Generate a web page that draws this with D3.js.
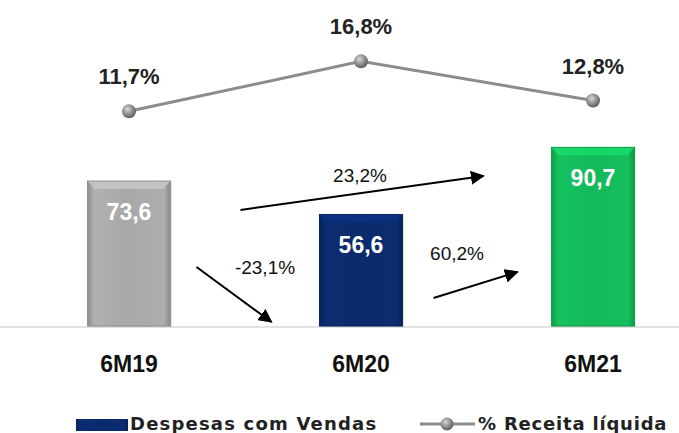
<!DOCTYPE html>
<html><head><meta charset="utf-8">
<script src="https://cdn.jsdelivr.net/npm/d3@7"></script>
<style>body{margin:0;background:#fff}svg{display:block}</style>
</head><body>
<svg id="c" width="679" height="433"></svg>
<script>
const categories = ["6M19", "6M20", "6M21"];
const despesas = [73.6, 56.6, 90.7];
const receitaPct = [11.7, 16.8, 12.8];
const barLabels = ["73,6", "56,6", "90,7"];
const pctLabels = ["11,7%", "16,8%", "12,8%"];
const growthLabels = ["-23,1%", "23,2%", "60,2%"];
const barColors = ["#a8a8a8", "#0b2a6c", "#14b95a"];

const svg = d3.select("#c");
const W = 679, H = 433;
const baseY = 326;
const x = d3.scaleBand().domain(categories).range([13, 709]).paddingInner(0.642).paddingOuter(0.321);
const y = d3.scaleLinear().domain([0, 100]).range([baseY, baseY - 197]);
const y2 = d3.scaleLinear().domain([0, 20]).range([226, 30]);
const cx = c => x(c) + x.bandwidth() / 2;

const defs = svg.append("defs");
barColors.forEach((col, i) => {
  const g = defs.append("linearGradient").attr("id", "bg" + i).attr("x1", 0).attr("x2", 1).attr("y1", 0).attr("y2", 0);
  const c = d3.color(col);
  g.append("stop").attr("offset", 0).attr("stop-color", c.darker(0.5));
  g.append("stop").attr("offset", 0.08).attr("stop-color", c.brighter(0.15));
  g.append("stop").attr("offset", 0.5).attr("stop-color", col);
  g.append("stop").attr("offset", 0.92).attr("stop-color", c.brighter(0.1));
  g.append("stop").attr("offset", 1).attr("stop-color", c.darker(0.6));
});
const rg = defs.append("radialGradient").attr("id", "ball").attr("cx", 0.4).attr("cy", 0.35).attr("r", 0.65);
rg.append("stop").attr("offset", 0).attr("stop-color", "#d8d8d8");
rg.append("stop").attr("offset", 0.6).attr("stop-color", "#8a8a8a");
rg.append("stop").attr("offset", 1).attr("stop-color", "#5e5e5e");
const mk = defs.append("marker").attr("id", "arr").attr("viewBox", "0 0 10 10").attr("refX", 9).attr("refY", 5)
  .attr("markerWidth", 14).attr("markerHeight", 14).attr("markerUnits", "userSpaceOnUse").attr("orient", "auto");
mk.append("path").attr("d", "M0,0L10,5L0,10Z").attr("fill", "#000");

// axis line
svg.append("line").attr("x1", 0).attr("x2", W).attr("y1", baseY + 1).attr("y2", baseY + 1)
  .attr("stroke", "#d9d9d9").attr("stroke-width", 1.5);

// bars
const bars = svg.append("g");
categories.forEach((c, i) => {
  const x0 = x(c), w = x.bandwidth(), y0 = y(despesas[i]), h = baseY - y0;
  const col = d3.color(barColors[i]);
  bars.append("rect").attr("x", x0 + 1).attr("y", y0 + 1).attr("width", w).attr("height", h)
    .attr("fill", "#000").attr("opacity", 0.15);
  bars.append("rect").attr("x", x0).attr("y", y0).attr("width", w).attr("height", h)
    .attr("fill", `url(#bg${i})`);
  bars.append("path").attr("d", `M${x0},${y0}L${x0 + w},${y0}L${x0 + w - 7},${y0 + 8}L${x0 + 7},${y0 + 8}Z`)
    .attr("fill", col.brighter(0.5)).attr("opacity", 0.8);
  bars.append("rect").attr("x", x0).attr("y", y0).attr("width", w).attr("height", h)
    .attr("fill", "none").attr("stroke", col.darker(0.4)).attr("stroke-width", 1);
  bars.append("text").attr("x", cx(c)).attr("y", y0 + 39).attr("text-anchor", "middle")
    .attr("font-family", "Liberation Sans, Arial, sans-serif").attr("font-weight", "bold").attr("font-size", 23)
    .attr("fill", "#fff").text(barLabels[i]);
});

// line
const line = d3.line().x((d, i) => cx(categories[i])).y(d => y2(d));
svg.append("path").datum(receitaPct).attr("d", line).attr("fill", "none")
  .attr("stroke", "#8c8c8c").attr("stroke-width", 3);
svg.append("g").selectAll("circle").data(receitaPct).join("circle")
  .attr("cx", (d, i) => cx(categories[i])).attr("cy", d => y2(d)).attr("r", 7)
  .attr("fill", "url(#ball)");
svg.append("g").selectAll("text").data(receitaPct).join("text")
  .attr("x", (d, i) => cx(categories[i])).attr("y", d => y2(d) - 27).attr("text-anchor", "middle")
  .attr("font-family", "Liberation Sans, Arial, sans-serif").attr("font-weight", "bold").attr("font-size", 22)
  .attr("fill", "#222").text((d, i) => pctLabels[i]);

// category labels
svg.append("g").selectAll("text").data(categories).join("text")
  .attr("x", d => cx(d)).attr("y", 372).attr("text-anchor", "middle")
  .attr("font-family", "Liberation Sans, Arial, sans-serif").attr("font-weight", "bold").attr("font-size", 23)
  .attr("fill", "#111").text(d => d);

// growth arrows
const arrows = [
  {x1: x(categories[0]) + x.bandwidth() + 26, y1: 267, x2: x(categories[1]) - 48, y2: 322, lx: 265, ly: 274},
  {x1: x(categories[0]) + x.bandwidth() + 70, y1: 210, x2: x(categories[2]) - 68, y2: 176, lx: 360, ly: 182},
  {x1: x(categories[1]) + x.bandwidth() + 31, y1: 298, x2: x(categories[2]) - 34, y2: 272, lx: 457, ly: 260}
];
arrows.forEach((a, i) => {
  svg.append("line").attr("x1", a.x1).attr("y1", a.y1).attr("x2", a.x2).attr("y2", a.y2)
    .attr("stroke", "#000").attr("stroke-width", 2).attr("marker-end", "url(#arr)");
  svg.append("text").attr("x", a.lx).attr("y", a.ly).attr("text-anchor", "middle")
    .attr("font-family", "Liberation Sans, Arial, sans-serif").attr("font-size", 19)
    .attr("fill", "#111").text(growthLabels[i]);
});

// legend
const lg = svg.append("g");
lg.append("rect").attr("x", 76).attr("y", 419).attr("width", 52).attr("height", 12).attr("fill", "url(#bg1)");
lg.append("text").attr("x", 130).attr("y", 430).attr("font-family", "DejaVu Sans, Verdana, sans-serif")
  .attr("font-weight", "bold").attr("font-size", 18).attr("letter-spacing", 1.2).attr("fill", "#222").text("Despesas com Vendas");
lg.append("line").attr("x1", 420).attr("x2", 475).attr("y1", 424).attr("y2", 424).attr("stroke", "#8c8c8c").attr("stroke-width", 3);
lg.append("circle").attr("cx", 447).attr("cy", 424).attr("r", 6.5).attr("fill", "url(#ball)");
lg.append("text").attr("x", 478).attr("y", 430).attr("font-family", "DejaVu Sans, Verdana, sans-serif")
  .attr("font-weight", "bold").attr("font-size", 18).attr("letter-spacing", 0.8).attr("fill", "#222").text("% Receita líquida");
</script>
</body></html>
